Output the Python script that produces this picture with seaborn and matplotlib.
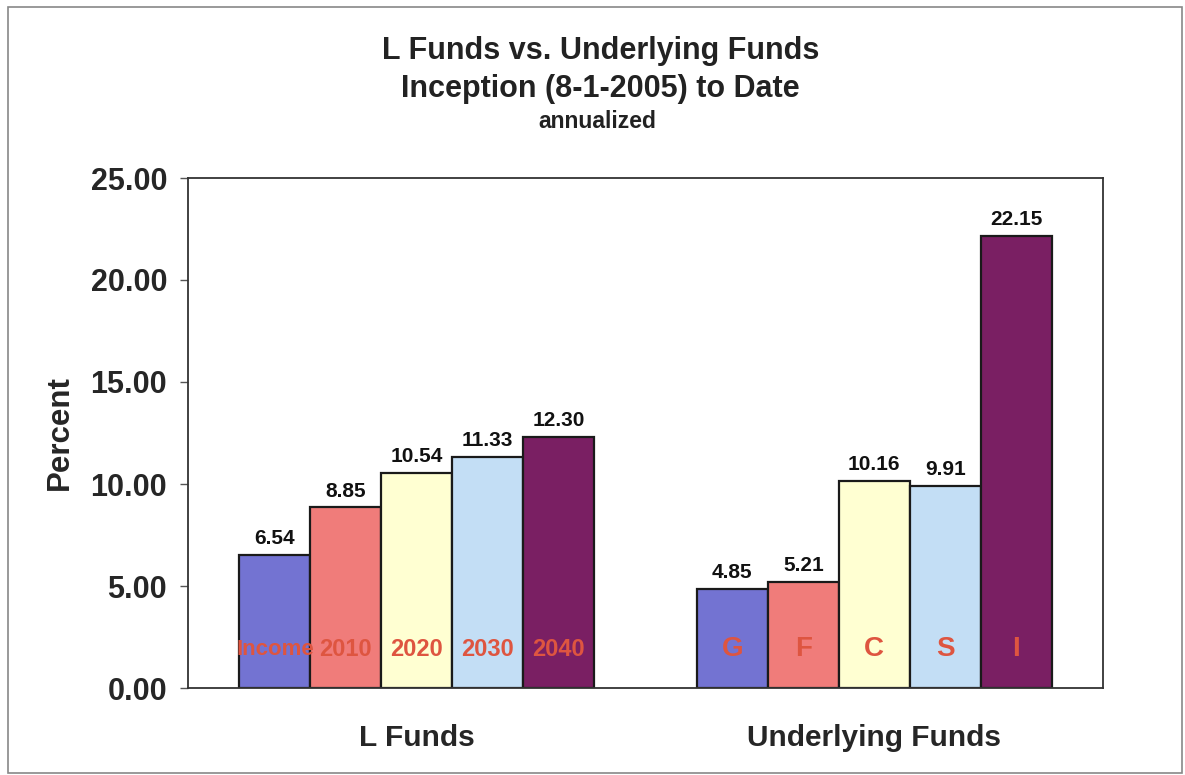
import numpy as np
import pandas as pd
import matplotlib
matplotlib.use("Agg")
import matplotlib.pyplot as plt
import matplotlib.patches as mpatches
import seaborn as sns

# datos
grupos = ["L Funds", "Underlying Funds"]
fondos_l = ["Income", "2010", "2020", "2030", "2040"]
valores_l = [6.54, 8.85, 10.54, 11.33, 12.30]
fondos_u = ["G", "F", "C", "S", "I"]
valores_u = [4.85, 5.21, 10.16, 9.91, 22.15]
y_ticks = [0, 5, 10, 15, 20, 25]

colores = ["#7373D2", "#F07C7A", "#FFFFD2", "#C3DEF5", "#7A1F63"]
slots = ["s1", "s2", "s3", "s4", "s5"]

df = pd.DataFrame({
    "grupo": [grupos[0]] * 5 + [grupos[1]] * 5,
    "slot": slots + slots,
    "fondo": fondos_l + fondos_u,
    "valor": valores_l + valores_u,
})

sns.set_style("white")
plt.rcParams["font.family"] = ["Liberation Sans", "DejaVu Sans"]

fig = plt.figure(figsize=(11.85, 7.75), dpi=100)
ax = fig.add_axes([188 / 1185, 87 / 775, 915 / 1185, 510 / 775])

sns.barplot(data=df, x="grupo", y="valor", hue="slot", hue_order=slots,
            palette=colores, width=0.775, edgecolor="#1a1a1a", linewidth=1.6,
            saturation=1, legend=False, ax=ax)

# etiquetas de valores y nombres dentro de las barras
for i, cont in enumerate(ax.containers):
    vals = [valores_l[i], valores_u[i]]
    ax.bar_label(cont, labels=[f"{v:.2f}" for v in vals], padding=5,
                 fontsize=15, fontweight="bold", color="#111111")
    nombres = [fondos_l[i], fondos_u[i]]
    for bar, nom in zip(cont, nombres):
        if nom == "Income":
            tam = 16
        elif len(nom) > 1:
            tam = 17
        else:
            tam = 20
        ax.text(bar.get_x() + bar.get_width() / 2, 1.9, nom,
                ha="center", va="center", fontsize=tam,
                fontweight="bold", color="#DE5540")

ax.set_ylim(0, 25)
ax.set_xlim(-0.5, 1.5)
ax.set_yticks(y_ticks)
ax.set_yticklabels([f"{t:.2f}" for t in y_ticks], fontsize=22, fontweight="bold")
ax.set_xticks([0, 1])
ax.set_xticklabels(grupos, fontsize=21.5, fontweight="bold")
ax.set_xticks([-0.5, 0.5, 1.5], minor=True)
ax.tick_params(axis="x", which="major", length=0, pad=26)
ax.tick_params(axis="x", which="minor", length=7, width=1, color="#555555", direction="out")
ax.tick_params(axis="y", length=6, width=1, color="#555555", direction="out", pad=9, left=True)
ax.set_xlabel("")
ax.set_ylabel("Percent", fontsize=22.5, fontweight="bold", labelpad=11)
for s in ax.spines.values():
    s.set_visible(True)
    s.set_color("#333333")
    s.set_linewidth(1.3)

fig.text(0.507, 1 - 51 / 775, "L Funds vs. Underlying Funds", ha="center", va="center",
         fontsize=22, fontweight="bold", color="#222222")
fig.text(0.507, 1 - 89 / 775, "Inception (8-1-2005) to Date", ha="center", va="center",
         fontsize=22, fontweight="bold", color="#222222")
fig.text(0.504, 1 - 121 / 775, "annualized", ha="center", va="center",
         fontsize=16.5, fontweight="bold", color="#222222")

# marco exterior
marco = mpatches.Rectangle((8 / 1185, 2 / 775), 1174 / 1185, 766 / 775,
                           transform=fig.transFigure, fill=False,
                           edgecolor="#888888", linewidth=1.2)
fig.patches.append(marco)

fig.savefig("out.png", dpi=100)
